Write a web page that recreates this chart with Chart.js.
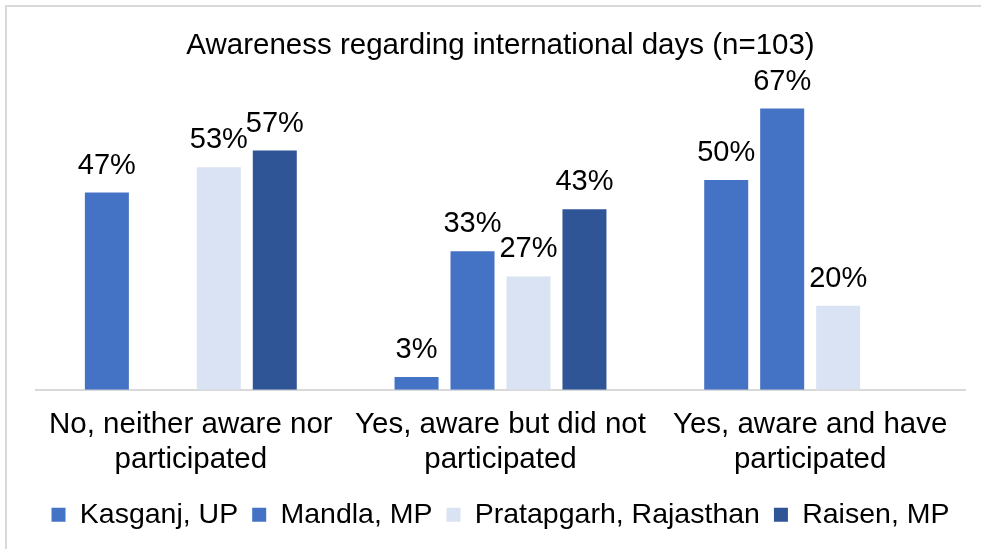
<!DOCTYPE html>
<html>
<head>
    <title>Awareness regarding international days</title>
    <script src="https://cdn.jsdelivr.net/npm/chart.js"></script>
    <style>
        body {
            margin: 0;
            background: #fff;
        }
        #wrap {
            width: 981px;
            height: 549px;
        }
    </style>
</head>
<body>
    <div id="wrap">
        <canvas id="awarenessChart" width="981" height="549"></canvas>
    </div>

    <script>
        const categories = [
            ["No, neither aware nor", "participated"],
            ["Yes, aware but did not", "participated"],
            ["Yes, aware and have", "participated"]
        ];
        const districts = ["Kasganj, UP", "Mandla, MP", "Pratapgarh, Rajasthan", "Raisen, MP"];
        const kasganj = [47, 3, 50];
        const mandla = [null, 33, 67];
        const pratapgarh = [53, 27, 20];
        const raisen = [57, 43, null];
        const barColors = ["#4472C4", "#4472C4", "#DAE3F3", "#2F5597"];

        const fontFamily = "'Liberation Sans', Arial, sans-serif";

        // Light frame around the whole chart
        const frame = {
            id: 'frame',
            beforeDraw(chart) {
                const ctx = chart.ctx;
                ctx.save();
                ctx.fillStyle = '#fff';
                ctx.fillRect(0, 0, chart.width, chart.height);
                ctx.strokeStyle = '#d9d9d9';
                ctx.lineWidth = 2;
                ctx.strokeRect(6, 6, chart.width + 10, chart.height + 10);
                ctx.restore();
            }
        };

        // Percent labels above each bar
        const valueLabels = {
            id: 'valueLabels',
            afterDatasetsDraw(chart) {
                const ctx = chart.ctx;
                ctx.save();
                ctx.font = '29px ' + fontFamily;
                ctx.fillStyle = '#000';
                ctx.textAlign = 'center';
                ctx.textBaseline = 'alphabetic';
                chart.data.datasets.forEach((ds, i) => {
                    chart.getDatasetMeta(i).data.forEach((bar, j) => {
                        const v = ds.data[j];
                        if (v == null) return;
                        ctx.fillText(v + '%', bar.x, bar.y - 19);
                    });
                });
                ctx.restore();
            }
        };

        const series = [kasganj, mandla, pratapgarh, raisen];

        new Chart(document.getElementById('awarenessChart'), {
            type: 'bar',
            data: {
                labels: categories,
                datasets: series.map((values, i) => ({
                    label: districts[i],
                    data: values,
                    backgroundColor: barColors[i],
                    borderWidth: 0,
                    categoryPercentage: 0.723,
                    barPercentage: 0.786
                }))
            },
            options: {
                responsive: false,
                animation: false,
                layout: {
                    padding: { left: 36, right: 16, top: 10, bottom: 10 }
                },
                scales: {
                    x: {
                        grid: { display: false },
                        border: { display: true, color: '#d9d9d9', width: 2 },
                        ticks: {
                            color: '#000',
                            font: { size: 29.5, family: fontFamily },
                            padding: 9,
                            maxRotation: 0,
                            autoSkip: false
                        }
                    },
                    y: {
                        display: false,
                        min: 0,
                        max: 70
                    }
                },
                plugins: {
                    title: {
                        display: true,
                        text: 'Awareness regarding international days (n=103)',
                        color: '#000',
                        font: { size: 29.5, family: fontFamily, weight: 'normal' },
                        padding: { top: 18, bottom: 32.6 }
                    },
                    legend: {
                        position: 'bottom',
                        labels: {
                            color: '#000',
                            font: { size: 28.5, family: fontFamily },
                            boxWidth: 14,
                            boxHeight: 14,
                            padding: 14
                        }
                    },
                    tooltip: { enabled: false }
                }
            },
            plugins: [frame, valueLabels]
        });
    </script>
</body>
</html>
